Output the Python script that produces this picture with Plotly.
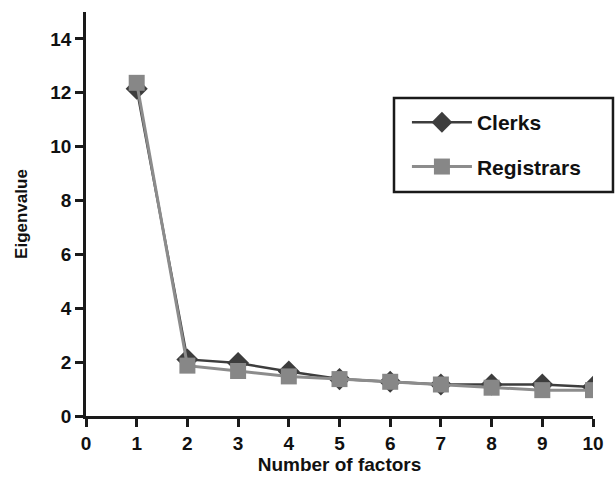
import plotly.graph_objects as go

factors = [1, 2, 3, 4, 5, 6, 7, 8, 9, 10]
clerks = [12.15, 2.1, 1.97, 1.65, 1.37, 1.27, 1.17, 1.17, 1.17, 1.08]
registrars = [12.37, 1.87, 1.67, 1.47, 1.37, 1.27, 1.17, 1.05, 0.96, 0.96]
x_ticks = list(range(0, 11))
y_ticks = list(range(0, 15, 2))

FONT = "Liberation Sans, Arial, sans-serif"

fig = go.Figure()
fig.add_trace(go.Scatter(
    x=factors, y=clerks, name="<b>Clerks</b>", mode="lines+markers",
    line=dict(color="#3d3d3d", width=2.5),
    marker=dict(symbol="diamond", size=17, color="#3d3d3d"),
    legendgroup="a",
))
fig.add_trace(go.Scatter(
    x=factors, y=registrars, name="<b>Registrars</b>", mode="lines+markers",
    line=dict(color="#8c8c8c", width=3),
    marker=dict(symbol="square", size=16, color="#878787"),
    legendgroup="b",
))

axis_common = dict(
    showgrid=False, zeroline=False, showline=True, linecolor="#1a1a1a", linewidth=2.5,
    ticks="outside", ticklen=8, tickwidth=2.5, tickcolor="#1a1a1a",
    tickfont=dict(family=FONT, size=19, color="#111111"),
    automargin=False,
)

fig.update_xaxes(
    range=[0, 10], tickvals=x_ticks, ticktext=[f"<b>{t}</b>" for t in x_ticks],
    title=dict(text="<b>Number of factors</b>", font=dict(family=FONT, size=19, color="#111111"), standoff=3),
    **axis_common,
)
fig.update_yaxes(
    range=[0, 15], tickvals=y_ticks, ticktext=[f"<b>{t}</b>" for t in y_ticks],
    title=dict(text="<b>Eigenvalue</b>", font=dict(family=FONT, size=17, color="#111111"), standoff=19),
    **axis_common,
)

# legend frame
fig.add_shape(
    type="rect", xref="paper", yref="paper",
    x0=0.6075, x1=1.0394, y0=0.5545, y1=0.787,
    line=dict(color="#1a1a1a", width=2.5), fillcolor="rgba(0,0,0,0)", layer="above",
)

fig.update_layout(
    width=615, height=480,
    margin=dict(l=86, r=22, t=12, b=64),
    plot_bgcolor="white", paper_bgcolor="white",
    showlegend=True,
    legend=dict(
        x=0.633, y=0.777, xanchor="left", yanchor="top",
        borderwidth=0, bgcolor="rgba(0,0,0,0)",
        font=dict(family=FONT, size=21, color="#111111"),
        itemwidth=60, tracegroupgap=14,
    ),
)

fig.write_html("out.html", config={"displayModeBar": False},
               post_script="document.body.style.margin='0';")
